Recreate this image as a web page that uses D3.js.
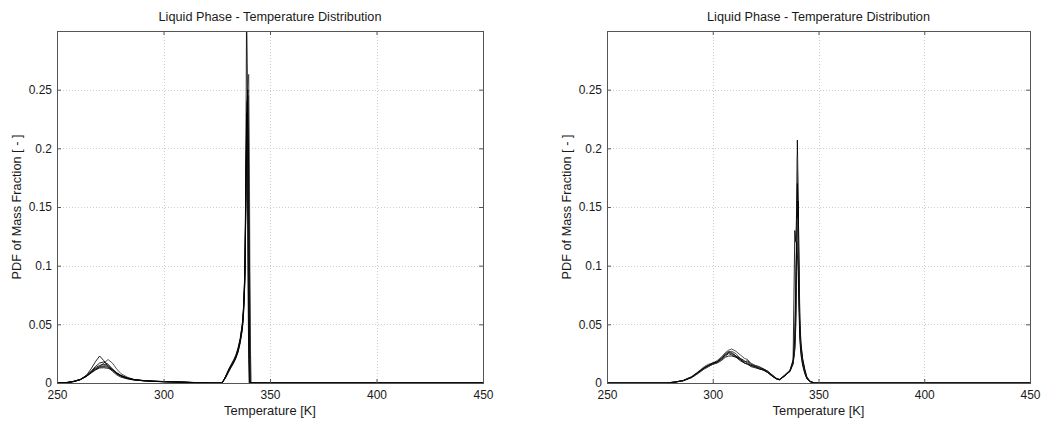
<!DOCTYPE html>
<html>
<head>
<meta charset="utf-8">
<script src="https://cdn.jsdelivr.net/npm/d3@7"></script>
<style>
  html, body { margin: 0; padding: 0; background: #fff; }
  svg text { font-family: "Liberation Sans", Arial, sans-serif; fill: #1a1a1a; }
</style>
</head>
<body>
<svg id="chart" width="1047" height="421"></svg>
<script>
// ---- data ----
const titleText = "Liquid Phase - Temperature Distribution";
const xLabelText = "Temperature [K]";
const yLabelText = "PDF of Mass Fraction [ - ]";
const xTicks = [250, 300, 350, 400, 450];
const yTicks = [0, 0.05, 0.1, 0.15, 0.2, 0.25];
const yTickLabels = ["0", "0.05", "0.1", "0.15", "0.2", "0.25"];
const xDomain = [250, 450];
const yDomain = [0, 0.3];

// Left panel: temperature grid and curves
const leftT = [250, 255, 258, 261, 264, 266, 268, 270, 272, 274, 276, 278, 280, 283, 286, 290, 295, 300, 305, 310, 315, 320, 325, 327.5,
               329, 331, 333, 334, 335, 336, 337, 337.5, 338, 338.3, 338.6, 339, 339.3, 339.6, 340, 340.3, 340.6, 341, 341.5, 450];
const leftS1 = [0,0.0005,0.0015,0.003,0.007,0.012,0.018,0.023,0.019,0.014,0.010,0.007,0.005,0.0035,0.0025,0.002,0.0015,0.0012,0.001,0.0008,0.0004,0.0002,0,0,
                0.005,0.012,0.018,0.022,0.028,0.036,0.048,0.06,0.08,0.10,0.15,0.32,0.272,0.224,0.16,0.112,0.064,0,0,0];
const leftS2 = [0,0.0004,0.0013,0.003,0.006,0.009,0.012,0.014,0.017,0.020,0.017,0.012,0.008,0.005,0.003,0.0022,0.0016,0.0013,0.0012,0.0008,0.0003,0.0001,0,0,
                0.004,0.011,0.017,0.021,0.026,0.034,0.045,0.056,0.075,0.095,0.14,0.2,0.23,0.25,0.263,0.2,0.08,0,0,0];
const leftS3 = [0,0.0005,0.0014,0.003,0.0065,0.010,0.014,0.017,0.018,0.016,0.012,0.008,0.006,0.004,0.003,0.002,0.0015,0.0012,0.0009,0.0006,0.0003,0.0001,0,0,
                0.005,0.013,0.019,0.023,0.029,0.037,0.05,0.062,0.085,0.11,0.16,0.21,0.24,0.25,0.12,0.02,0,0,0,0];
const leftS4 = [0,0.0004,0.0013,0.003,0.006,0.0095,0.013,0.015,0.016,0.015,0.011,0.008,0.006,0.004,0.0028,0.002,0.0014,0.0011,0.0008,0.0005,0.0002,0,0,0,
                0.0045,0.012,0.018,0.022,0.027,0.035,0.047,0.058,0.078,0.1,0.15,0.22,0.24,0.17,0.05,0,0,0,0,0];
const leftS5 = [0,0.0005,0.0014,0.0032,0.0062,0.0092,0.012,0.014,0.0148,0.0145,0.012,0.009,0.0065,0.0042,0.003,0.0021,0.0015,0.0011,0.0009,0.0006,0.0003,0.0001,0,0,
                0.005,0.012,0.019,0.023,0.028,0.036,0.049,0.06,0.082,0.105,0.155,0.19,0.21,0.22,0.15,0.03,0,0,0,0];
const leftS6 = [0,0.0004,0.0012,0.0028,0.0058,0.0088,0.0115,0.0135,0.014,0.0135,0.0115,0.0085,0.0062,0.004,0.0028,0.002,0.0014,0.001,0.0008,0.0005,0.0002,0,0,0,
                0.004,0.011,0.018,0.022,0.027,0.035,0.046,0.057,0.077,0.098,0.145,0.2,0.21,0.245,0.18,0.06,0,0,0,0];
const leftS7 = [0,0.0005,0.0015,0.003,0.006,0.0085,0.011,0.0128,0.013,0.0125,0.011,0.0085,0.0065,0.0045,0.003,0.0022,0.0016,0.0012,0.001,0.0007,0.0003,0.0001,0,0,
                0.005,0.013,0.02,0.024,0.03,0.038,0.05,0.063,0.085,0.11,0.17,0.23,0.2,0.1,0.02,0,0,0,0,0];

// Right panel: temperature grid and curves
const rightT = [250, 278, 282, 286, 290, 293, 296, 298, 300, 302, 304, 306, 307.5, 309, 311, 313, 315, 316.5, 318, 320, 322, 324, 326, 328, 330, 331.5,
                334, 336.5, 338, 338.8, 339.3, 339.7, 340, 340.4, 340.8, 341.2, 341.7, 342.5, 343.5, 344.5, 346, 348, 350, 450];
const rightS1 = [0,0,0.0008,0.002,0.005,0.009,0.013,0.015,0.016,0.018,0.021,0.025,0.027,0.026,0.023,0.020,0.018,0.019,0.016,0.015,0.014,0.012,0.010,0.007,0.004,0.003,
                 0.006,0.010,0.016,0.03,0.06,0.13,0.207,0.16,0.09,0.05,0.032,0.02,0.011,0.005,0.0015,0,0,0];
const rightS2 = [0,0,0.0007,0.0022,0.0055,0.0095,0.014,0.016,0.017,0.019,0.022,0.026,0.028,0.029,0.027,0.024,0.021,0.02,0.017,0.015,0.013,0.011,0.009,0.006,0.0035,0.003,
                 0.007,0.011,0.018,0.035,0.08,0.15,0.193,0.13,0.07,0.042,0.028,0.017,0.009,0.004,0.0012,0,0,0];
const rightS3 = [0,0,0.0008,0.002,0.005,0.009,0.013,0.015,0.017,0.018,0.020,0.023,0.025,0.024,0.022,0.020,0.017,0.016,0.015,0.014,0.013,0.012,0.010,0.007,0.004,0.0025,
                 0.006,0.010,0.02,0.13,0.12,0.15,0.17,0.14,0.08,0.045,0.03,0.018,0.01,0.0045,0.0013,0,0,0];
const rightS4 = [0,0,0.0006,0.0018,0.0045,0.008,0.012,0.014,0.016,0.017,0.019,0.022,0.023,0.023,0.022,0.019,0.017,0.016,0.014,0.013,0.012,0.011,0.009,0.006,0.0035,0.003,
                 0.006,0.010,0.017,0.028,0.05,0.1,0.14,0.155,0.1,0.055,0.034,0.021,0.012,0.005,0.0016,0,0,0];
const rightS5 = [0,0,0.0007,0.002,0.0052,0.0088,0.012,0.014,0.016,0.017,0.020,0.024,0.026,0.027,0.025,0.021,0.018,0.018,0.016,0.014,0.013,0.011,0.0095,0.0065,0.004,0.003,
                 0.0065,0.011,0.018,0.032,0.07,0.12,0.14,0.12,0.075,0.04,0.027,0.016,0.009,0.004,0.0012,0,0,0];
const rightS6 = [0,0,0.0008,0.0021,0.005,0.009,0.013,0.015,0.017,0.018,0.021,0.024,0.026,0.025,0.023,0.021,0.019,0.017,0.015,0.014,0.012,0.011,0.009,0.006,0.0038,0.0028,
                 0.0062,0.010,0.019,0.04,0.09,0.12,0.11,0.095,0.06,0.036,0.024,0.015,0.008,0.0035,0.001,0,0,0];

const panels = [
  { left: 57, right: 483, T: leftT, series: [leftS1, leftS2, leftS3, leftS4, leftS5, leftS6, leftS7] },
  { left: 607, right: 1030, T: rightT, series: [rightS1, rightS2, rightS3, rightS4, rightS5, rightS6] }
];

// ---- drawing ----
const svg = d3.select("#chart");
const plotTop = 31, plotBottom = 383;

// fit a font size so that a text has a given rendered width
function fitSize(str, targetWidth) {
  const t = svg.append("text").attr("font-size", "20px").text(str);
  const w = t.node().getComputedTextLength();
  t.remove();
  return (20 * targetWidth / w).toFixed(2) + "px";
}
const titleSize = fitSize(titleText, 223);
const xLabelSize = fitSize(xLabelText, 92);
const yLabelSize = fitSize(yLabelText, 145);
const tickSize = fitSize("0.25", 23.3);

panels.forEach((p, i) => {
  const x = d3.scaleLinear().domain(xDomain).range([p.left, p.right]);
  const y = d3.scaleLinear().domain(yDomain).range([plotBottom, plotTop]);
  const g = svg.append("g");

  // grid
  g.append("g").selectAll("line").data(xTicks.slice(1, -1)).join("line")
    .attr("x1", d => Math.round(x(d)) + 0.5).attr("x2", d => Math.round(x(d)) + 0.5)
    .attr("y1", plotTop).attr("y2", plotBottom)
    .attr("stroke", "#cfcfcf").attr("stroke-width", 1).attr("stroke-dasharray", "1,2");
  g.append("g").selectAll("line").data(yTicks.slice(1)).join("line")
    .attr("y1", d => Math.round(y(d)) + 0.5).attr("y2", d => Math.round(y(d)) + 0.5)
    .attr("x1", p.left).attr("x2", p.right)
    .attr("stroke", "#cfcfcf").attr("stroke-width", 1).attr("stroke-dasharray", "1,2");

  // curves
  const clipId = "clip" + i;
  svg.append("clipPath").attr("id", clipId).append("rect")
    .attr("x", p.left).attr("y", plotTop).attr("width", p.right - p.left).attr("height", plotBottom - plotTop);
  const line = d3.line().x((d, k) => x(p.T[k])).y(d => y(d));
  g.append("g").attr("clip-path", `url(#${clipId})`)
    .selectAll("path").data(p.series).join("path")
    .attr("d", s => line(s))
    .attr("fill", "none")
    .attr("stroke", (s, k) => k % 3 === 1 ? "#3a3a3a" : "#000")
    .attr("stroke-width", 1)
    .attr("stroke-opacity", 0.85);

  // axes with inward ticks (bottom, left, top, right)
  const tickLen = 4;
  const xb = g.append("g").attr("transform", `translate(0,${plotBottom})`)
    .call(d3.axisBottom(x).tickValues(xTicks).tickSize(-tickLen).tickPadding(8).tickFormat(d3.format("d")));
  const yl = g.append("g").attr("transform", `translate(${p.left},0)`)
    .call(d3.axisLeft(y).tickValues(yTicks).tickSize(-tickLen).tickPadding(5).tickFormat((d, k) => yTickLabels[k]));
  const xt = g.append("g").attr("transform", `translate(0,${plotTop})`)
    .call(d3.axisTop(x).tickValues(xTicks).tickSize(-tickLen).tickFormat(""));
  const yr = g.append("g").attr("transform", `translate(${p.right},0)`)
    .call(d3.axisRight(y).tickValues(yTicks).tickSize(-tickLen).tickFormat(""));
  [xb, yl, xt, yr].forEach(a => {
    a.select(".domain").remove();
    a.selectAll(".tick line").attr("stroke", "#555");
    a.selectAll("text").attr("font-size", tickSize).attr("fill", "#1a1a1a")
      .attr("font-family", "Liberation Sans, Arial, sans-serif");
  });

  // box
  g.append("rect").attr("x", p.left + 0.5).attr("y", plotTop + 0.5)
    .attr("width", p.right - p.left).attr("height", plotBottom - plotTop)
    .attr("fill", "none").attr("stroke", "#555").attr("stroke-width", 1);

  // texts
  const cx = (p.left + p.right) / 2;
  g.append("text").attr("x", cx).attr("y", 21).attr("text-anchor", "middle")
    .attr("font-size", titleSize).text(titleText);
  g.append("text").attr("x", cx).attr("y", 415).attr("text-anchor", "middle")
    .attr("font-size", xLabelSize).text(xLabelText);
  g.append("text").attr("transform", `translate(${p.left - 36},${(plotTop + plotBottom) / 2}) rotate(-90)`)
    .attr("text-anchor", "middle").attr("font-size", yLabelSize).text(yLabelText);
});
</script>
</body>
</html>
